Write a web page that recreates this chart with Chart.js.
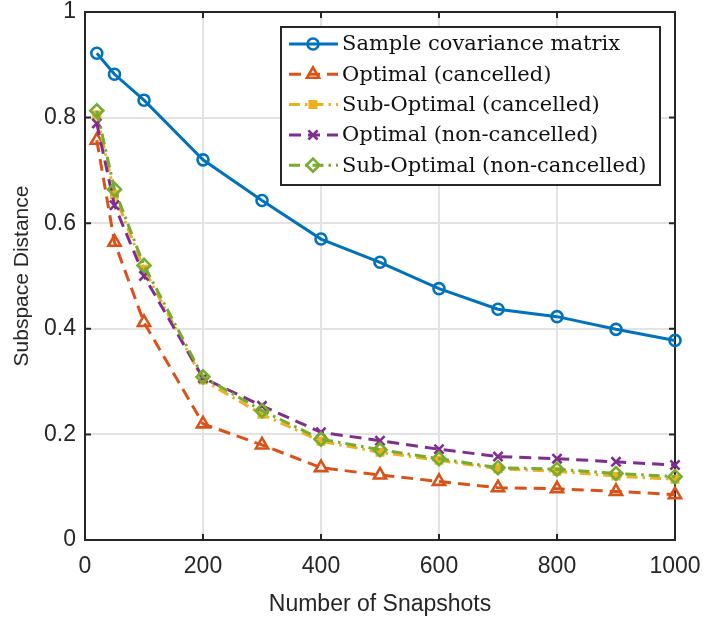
<!DOCTYPE html>
<html>
<head>
<meta charset="utf-8">
<script src="https://cdn.jsdelivr.net/npm/chart.js@4/dist/chart.umd.min.js"></script>
<style>
  html, body { margin: 0; padding: 0; background: #fff; }
  #wrap { width: 704px; height: 618px; }
</style>
</head>
<body>
<div id="wrap"><canvas id="chart"></canvas></div>
<script>
// snapshot counts on the x axis
const snapshots = [20, 50, 100, 200, 300, 400, 500, 600, 700, 800, 900, 1000];

// subspace distance per estimator
const sampleCov       = [0.922, 0.882, 0.833, 0.720, 0.643, 0.570, 0.526, 0.476, 0.437, 0.423, 0.399, 0.378];
const optCancelled    = [0.757, 0.564, 0.412, 0.220, 0.180, 0.137, 0.123, 0.111, 0.099, 0.097, 0.092, 0.086];
const subCancelled    = [0.805, 0.655, 0.513, 0.303, 0.238, 0.187, 0.166, 0.151, 0.135, 0.130, 0.121, 0.115];
const optNonCancelled = [0.789, 0.634, 0.500, 0.307, 0.254, 0.204, 0.188, 0.172, 0.158, 0.154, 0.148, 0.142];
const subNonCancelled = [0.813, 0.664, 0.520, 0.309, 0.245, 0.191, 0.171, 0.154, 0.137, 0.134, 0.126, 0.120];

const seriesLabels = [
    'Sample covariance matrix',
    'Optimal (cancelled)',
    'Sub-Optimal (cancelled)',
    'Optimal (non-cancelled)',
    'Sub-Optimal (non-cancelled)'
];

const xTicks = [0, 200, 400, 600, 800, 1000];
const xTickLabels = ['0', '200', '400', '600', '800', '1000'];
const yTicks = [0, 0.2, 0.4, 0.6, 0.8, 1];
const yTickLabels = ['0', '0.2', '0.4', '0.6', '0.8', '1'];

const AXIS = '#262626';
const SANS = '"Liberation Sans", Arial, sans-serif';
const toPoints = (ys) => ys.map((y, i) => ({ x: snapshots[i], y: y }));

function series(idx, ys, color, dash, style, radius, fill, order) {
    return {
        label: seriesLabels[idx],
        data: toPoints(ys),
        borderColor: color,
        backgroundColor: color,
        borderWidth: 3,
        borderDash: dash,
        borderCapStyle: 'butt',
        pointStyle: style,
        pointRadius: radius,
        pointHoverRadius: radius,
        pointBorderColor: color,
        pointBackgroundColor: fill ? color : 'rgba(0,0,0,0)',
        pointBorderWidth: 2.6,
        tension: 0,
        fill: false,
        clip: false,
        order: order
    };
}

// inward ticks and full box, drawn under the lines
const boxPlugin = {
    id: 'boxAxes',
    beforeDatasetsDraw(chart) {
        const { ctx, chartArea: a, scales } = chart;
        ctx.save();
        ctx.strokeStyle = AXIS;
        ctx.lineWidth = 2;
        ctx.strokeRect(a.left, a.top, a.right - a.left, a.bottom - a.top);
        const len = 6;
        ctx.beginPath();
        xTicks.forEach(v => {
            const px = scales.x.getPixelForValue(v);
            ctx.moveTo(px, a.bottom); ctx.lineTo(px, a.bottom - len);
            ctx.moveTo(px, a.top); ctx.lineTo(px, a.top + len);
        });
        yTicks.forEach(v => {
            const py = scales.y.getPixelForValue(v);
            ctx.moveTo(a.left, py); ctx.lineTo(a.left + len, py);
            ctx.moveTo(a.right, py); ctx.lineTo(a.right - len, py);
        });
        ctx.stroke();
        ctx.restore();
    }
};

// boxed legend with line + marker samples
const legendPlugin = {
    id: 'boxLegend',
    afterDraw(chart) {
        const ctx = chart.ctx;
        const box = { left: 281, top: 27, right: 660, bottom: 185 };
        const rowH = 30.3;
        ctx.save();
        ctx.fillStyle = '#fff';
        ctx.fillRect(box.left, box.top, box.right - box.left, box.bottom - box.top);
        ctx.strokeStyle = AXIS;
        ctx.lineWidth = 2;
        ctx.strokeRect(box.left, box.top, box.right - box.left, box.bottom - box.top);
        ctx.font = '21px "DejaVu Serif"';
        ctx.textBaseline = 'middle';
        chart.data.datasets.forEach((ds, i) => {
            const cy = box.top + 17 + i * rowH;
            ctx.save();
            ctx.strokeStyle = ds.borderColor;
            ctx.lineWidth = ds.borderWidth;
            ctx.setLineDash(ds.borderDash || []);
            ctx.beginPath();
            ctx.moveTo(289, cy);
            ctx.lineTo(338, cy);
            ctx.stroke();
            ctx.setLineDash([]);
            ctx.strokeStyle = ds.pointBorderColor;
            ctx.fillStyle = ds.pointBackgroundColor;
            ctx.lineWidth = ds.pointBorderWidth;
            Chart.helpers.drawPoint(ctx, {
                pointStyle: ds.pointStyle,
                radius: ds.pointRadius,
                rotation: 0,
                borderWidth: ds.pointBorderWidth
            }, 313, cy);
            ctx.restore();
            ctx.fillStyle = '#111';
            ctx.fillText(ds.label, 342, cy + 1);
        });
        ctx.restore();
    }
};

new Chart(document.getElementById('chart'), {
    type: 'line',
    data: {
        datasets: [
            series(0, sampleCov,       '#0072BD', [],              'circle',   5.5, false, 5),
            series(1, optCancelled,    '#D95319', [12, 7],         'triangle', 7,   false, 4),
            series(2, subCancelled,    '#EDB120', [11, 5, 2.5, 5], 'rect',     4.5, true,  3),
            series(3, optNonCancelled, '#7E2F8E', [12, 7],         'crossRot', 6.5, false, 2),
            series(4, subNonCancelled, '#77AC30', [11, 5, 2.5, 5], 'rectRot',  6.5, false, 1)
        ]
    },
    options: {
        responsive: true,
        maintainAspectRatio: false,
        animation: false,
        events: [],
        layout: { padding: { top: 12, right: 29, left: 0, bottom: 0 } },
        plugins: {
            legend: { display: false },
            tooltip: { enabled: false }
        },
        scales: {
            x: {
                type: 'linear',
                min: 0,
                max: 1000,
                afterFit: (s) => { s.height = 78; s.paddingLeft = 0; s.paddingRight = 0; },
                afterBuildTicks: (s) => { s.ticks = xTicks.map(v => ({ value: v })); },
                grid: { color: '#e3e3e3', lineWidth: 2, drawTicks: false },
                border: { display: false },
                ticks: {
                    padding: 13,
                    color: AXIS,
                    maxRotation: 0,
                    font: { family: SANS, size: 23 },
                    callback: (v) => xTickLabels[xTicks.indexOf(v)]
                },
                title: {
                    display: true,
                    text: 'Number of Snapshots',
                    color: AXIS,
                    font: { family: SANS, size: 23 },
                    padding: { top: 4, bottom: 0 }
                }
            },
            y: {
                type: 'linear',
                min: 0,
                max: 1,
                afterFit: (s) => { s.width = 85; s.paddingTop = 0; s.paddingBottom = 0; },
                afterBuildTicks: (s) => { s.ticks = yTicks.map(v => ({ value: v })); },
                grid: { color: '#e3e3e3', lineWidth: 2, drawTicks: false },
                border: { display: false },
                ticks: {
                    padding: 9,
                    color: AXIS,
                    font: { family: SANS, size: 23 },
                    callback: (v) => yTickLabels[yTicks.indexOf(v)]
                },
                title: {
                    display: true,
                    text: 'Subspace Distance',
                    color: AXIS,
                    font: { family: SANS, size: 21 },
                    padding: { top: 10, bottom: 0 }
                }
            }
        }
    },
    plugins: [boxPlugin, legendPlugin]
});
</script>
</body>
</html>
